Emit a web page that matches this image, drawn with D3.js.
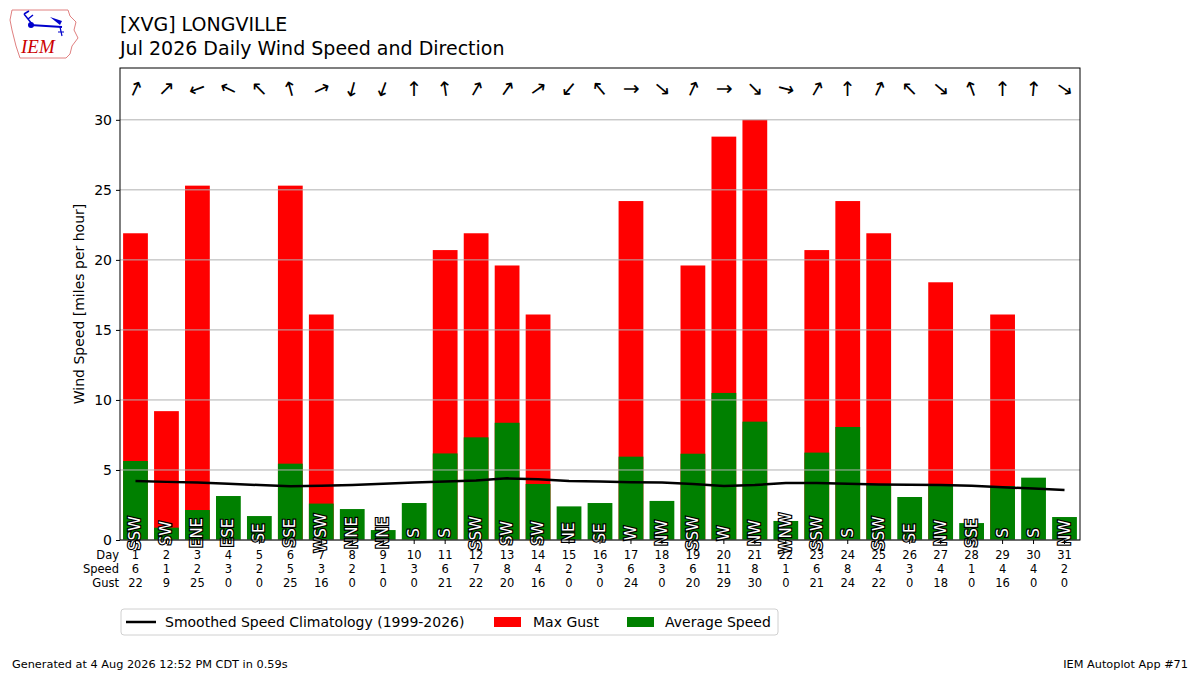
<!DOCTYPE html>
<html>
<head>
<meta charset="utf-8">
<script src="https://cdn.jsdelivr.net/npm/d3@7"></script>
<style>
  body { margin: 0; background: #fff; }
  svg { font-family: "DejaVu Sans", sans-serif; }
</style>
</head>
<body>
<div id="chart"></div>
<script>
// daily values
const days = d3.range(1, 32);
const avgSpeed = [5.64, 0.88, 2.14, 3.14, 1.71, 5.45, 2.6, 2.21, 0.71, 2.64, 6.18, 7.33, 8.37, 4.0, 2.4, 2.64,
  5.95, 2.79, 6.16, 10.5, 8.45, 1.36, 6.24, 8.07, 3.95, 3.07, 3.95, 1.21, 3.85, 4.45, 1.64];
const maxGust = [21.9, 9.2, 25.3, 0, 0, 25.3, 16.1, 0, 0, 0, 20.7, 21.9, 19.6, 16.1, 0, 0,
  24.2, 0, 19.6, 28.8, 30.0, 0, 20.7, 24.2, 21.9, 0, 18.4, 0, 16.1, 0, 0];
const windDir = [205, 225, 70, 115, 135, 165, 245, 15, 20, 180, 172, 210, 215, 235, 40, 140,
  270, 310, 205, 270, 315, 285, 210, 180, 205, 135, 310, 160, 180, 185, 305];
const dirLabels = ["SSW", "SW", "ENE", "ESE", "SE", "SSE", "WSW", "NNE", "NNE", "S", "S", "SSW", "SW", "SW", "NE", "SE",
  "W", "NW", "SSW", "W", "NW", "WNW", "SSW", "S", "SSW", "SE", "NW", "SSE", "S", "S", "NW"];
const climo = [4.21, 4.15, 4.1, 4.02, 3.92, 3.83, 3.88, 3.93, 4.02, 4.1, 4.17, 4.25, 4.4, 4.33, 4.22, 4.17,
  4.12, 4.1, 4.0, 3.86, 3.92, 4.07, 4.07, 4.02, 3.97, 3.95, 3.93, 3.87, 3.77, 3.67, 3.57];
const yTicks = [0, 5, 10, 15, 20, 25, 30];

const W = 1200, H = 675;
const margin = { top: 68, right: 120, bottom: 135, left: 120 };

const svg = d3.select("#chart").append("svg")
  .attr("width", W).attr("height", H);

const x = d3.scaleLinear().domain([0.5, 31.5]).range([margin.left, W - margin.right]);
const y = d3.scaleLinear().domain([0, 33.7]).range([H - margin.bottom, margin.top]);
const bw = x(0.8) - x(0);

// bars: gust first, average speed on top
svg.selectAll(".gust").data(days).join("rect")
  .attr("class", "gust")
  .attr("x", d => x(d) - bw / 2)
  .attr("width", bw)
  .attr("y", d => y(maxGust[d - 1]))
  .attr("height", d => y(0) - y(maxGust[d - 1]))
  .attr("fill", "#ff0000");

svg.selectAll(".avg").data(days).join("rect")
  .attr("class", "avg")
  .attr("x", d => x(d) - bw / 2)
  .attr("width", bw)
  .attr("y", d => y(avgSpeed[d - 1]))
  .attr("height", d => y(0) - y(avgSpeed[d - 1]))
  .attr("fill", "#008000");

// grid
svg.append("g")
  .selectAll("line").data(yTicks).join("line")
  .attr("x1", x(0.5)).attr("x2", x(31.5))
  .attr("y1", d => y(d)).attr("y2", d => y(d))
  .attr("stroke", "#b0b0b0").attr("stroke-width", 1);

// climatology
svg.append("path")
  .datum(days)
  .attr("d", d3.line().x(d => x(d)).y(d => y(climo[d - 1])))
  .attr("fill", "none")
  .attr("stroke", "#000")
  .attr("stroke-width", 2.5);

// direction text in bars
svg.selectAll(".dlab").data(days).join("text")
  .attr("class", "dlab")
  .attr("transform", d => `translate(${x(d)},${y(0.5)}) rotate(-90)`)
  .attr("text-anchor", "middle")
  .attr("dominant-baseline", "central")
  .attr("font-size", 15)
  .attr("fill", "#fff")
  .attr("stroke", "#000")
  .attr("stroke-width", 2.4)
  .attr("paint-order", "stroke")
  .text(d => dirLabels[d - 1]);

// arrows along the top (pointing where the wind goes)
svg.selectAll(".arrow").data(days).join("text")
  .attr("class", "arrow")
  .attr("transform", d => `translate(${x(d)},${y(32.2)}) rotate(${windDir[d - 1] + 180})`)
  .attr("text-anchor", "middle")
  .attr("dominant-baseline", "central")
  .attr("font-size", 20)
  .attr("fill", "#000")
  .text("\u2191");

// axes
const yAxis = svg.append("g")
  .attr("transform", `translate(${margin.left},0)`)
  .call(d3.axisLeft(y).tickValues(yTicks).tickSize(4).tickPadding(4));
yAxis.select(".domain").remove();
yAxis.selectAll("text").attr("font-size", 14).attr("font-family", "DejaVu Sans");

svg.append("g")
  .attr("transform", `translate(0,${y(0)})`)
  .selectAll("line").data(days).join("line")
  .attr("x1", d => x(d)).attr("x2", d => x(d))
  .attr("y1", 0).attr("y2", 4)
  .attr("stroke", "#000");

svg.append("rect")
  .attr("x", x(0.5)).attr("y", y(33.7))
  .attr("width", x(31.5) - x(0.5)).attr("height", y(0) - y(33.7))
  .attr("fill", "none").attr("stroke", "#000").attr("stroke-width", 1);

svg.append("text")
  .attr("transform", `translate(84,${(y(0) + y(33.7)) / 2}) rotate(-90)`)
  .attr("text-anchor", "middle")
  .attr("font-size", 14)
  .text("Wind Speed [miles per hour]");

// table below the axis
const rows = [
  { name: "Day", vals: days },
  { name: "Speed", vals: avgSpeed.map(v => Math.round(v)) },
  { name: "Gust", vals: maxGust.map(v => Math.round(v)) }
];
rows.forEach((r, i) => {
  const yy = y(0) + 15 + i * 14;
  svg.append("text")
    .attr("x", x(0.5) - 1).attr("y", yy)
    .attr("text-anchor", "end").attr("dominant-baseline", "central")
    .attr("font-size", 11.5)
    .text(r.name);
  svg.selectAll(".row" + i).data(days).join("text")
    .attr("class", "row" + i)
    .attr("x", d => x(d)).attr("y", yy)
    .attr("text-anchor", "middle").attr("dominant-baseline", "central")
    .attr("font-size", 11.5)
    .text(d => r.vals[d - 1]);
});

// titles
svg.append("text").attr("x", 120).attr("y", 31).attr("font-size", 19).text("[XVG] LONGVILLE");
svg.append("text").attr("x", 120).attr("y", 55).attr("font-size", 19).text("Jul 2026 Daily Wind Speed and Direction");

// legend
const lg = svg.append("g").attr("transform", "translate(121,609)");
lg.append("rect").attr("width", 657).attr("height", 26).attr("rx", 3)
  .attr("fill", "#fff").attr("stroke", "#d0d0d0");
lg.append("line").attr("x1", 5).attr("x2", 35).attr("y1", 13).attr("y2", 13)
  .attr("stroke", "#000").attr("stroke-width", 2.5);
lg.append("text").attr("x", 44).attr("y", 13).attr("dominant-baseline", "central")
  .attr("font-size", 14).text("Smoothed Speed Climatology (1999-2026)");
lg.append("rect").attr("x", 373).attr("y", 8).attr("width", 27).attr("height", 10).attr("fill", "#ff0000");
lg.append("text").attr("x", 412).attr("y", 13).attr("dominant-baseline", "central")
  .attr("font-size", 14).text("Max Gust");
lg.append("rect").attr("x", 506).attr("y", 8).attr("width", 27).attr("height", 10).attr("fill", "#008000");
lg.append("text").attr("x", 544).attr("y", 13).attr("dominant-baseline", "central")
  .attr("font-size", 14).text("Average Speed");

// footer
svg.append("text").attr("x", 12).attr("y", 668).attr("font-size", 11.3)
  .text("Generated at 4 Aug 2026 12:52 PM CDT in 0.59s");
svg.append("text").attr("x", 1188).attr("y", 668).attr("font-size", 11.3)
  .attr("text-anchor", "end").text("IEM Autoplot App #71");

// IEM logo (rough)
const logo = svg.append("g").attr("transform", "translate(10,8)");
logo.append("path")
  .attr("d", "M2,2 L58,2 L60,8 L66,14 L64,22 L68,30 L62,38 L60,46 L56,50 L10,50 L8,44 L6,38 L4,30 L2,22 L0,12 Z")
  .attr("fill", "none").attr("stroke", "#e08080").attr("stroke-width", 1);
logo.append("line").attr("x1", 20).attr("y1", 17).attr("x2", 52).attr("y2", 19)
  .attr("stroke", "#0000cc").attr("stroke-width", 2);
logo.append("circle").attr("cx", 21).attr("cy", 17).attr("r", 3).attr("fill", "#0000cc");
logo.append("path").attr("d", "M22,16 L14,6 M18,11 L23,7 M14,6 L19,3").attr("stroke", "#0000cc").attr("fill", "none").attr("stroke-width", 1.5);
logo.append("path").attr("d", "M40,9 L52,13 L50,17 Z").attr("fill", "#0000cc");
logo.append("path").attr("d", "M50,19 L52,28 M48,24 L54,24").attr("stroke", "#0000cc").attr("fill", "none").attr("stroke-width", 1.2);
logo.append("text").attr("x", 11).attr("y", 45)
  .attr("font-family", "Liberation Serif, serif").attr("font-style", "italic")
  .attr("font-size", 19).attr("fill", "#cc0000").text("IEM");
</script>
</body>
</html>
